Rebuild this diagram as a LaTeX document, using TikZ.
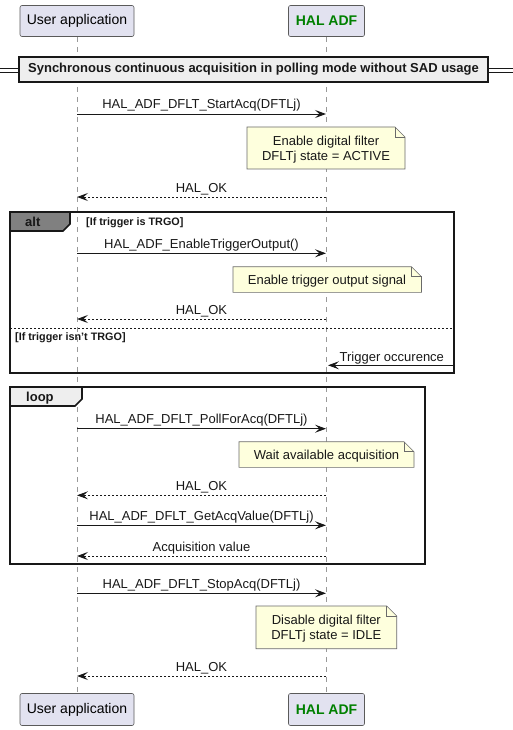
\documentclass[tikz,border=0pt]{standalone}
\usepackage{fontspec}
\setmainfont{Liberation Sans}
\usetikzlibrary{arrows.meta}
\definecolor{partfill}{HTML}{E2E2F0}
\definecolor{partdraw}{HTML}{5A5A5A}
\definecolor{notefill}{HTML}{FEFFDD}
\definecolor{notedraw}{HTML}{6A6A6A}
\definecolor{halgreen}{HTML}{008000}
\definecolor{grpfill}{HTML}{EEEEEE}
\definecolor{altfill}{HTML}{808080}
\definecolor{ink}{HTML}{181818}
\newcommand{\notefold}[4]{%
  \fill[notefill] (#1,#2) -- (#3-10,#2) -- (#3,#2+10) -- (#3,#4) -- (#1,#4) -- cycle;
  \draw[notedraw, line width=0.6pt] (#1,#2) -- (#3-10,#2) -- (#3,#2+10) -- (#3,#4) -- (#1,#4) -- cycle;
  \draw[notedraw, line width=0.6pt] (#3-10,#2) -- (#3-10,#2+10) -- (#3,#2+10);
}
\tikzset{
  part/.style={draw=partdraw, fill=partfill, rounded corners=2pt, line width=0.6pt,
    font=\fontsize{14}{16}\selectfont, inner sep=0pt},
  lifeline/.style={draw=gray!80, line width=0.6pt, dash pattern=on 5pt off 5pt},
  call/.style={draw=ink, line width=0.9pt, -{Stealth[length=11pt,width=8pt,inset=4.5pt]}},
  reply/.style={draw=ink, line width=0.9pt, dash pattern=on 2pt off 2pt,
    -{Stealth[length=11pt,width=8pt,inset=4.5pt]}},
  lbl/.style={font=\fontsize{13}{15}\selectfont, inner sep=0pt, anchor=base, yshift=5pt, text=ink},
  notetext/.style={font=\fontsize{13}{15}\selectfont, inner sep=0pt, align=center, text=ink},
  grp/.style={draw=ink, line width=1.6pt},
  cond/.style={font=\bfseries\fontsize{10.8}{12}\selectfont, inner sep=0pt, anchor=base west, text=ink},
  tabtext/.style={font=\bfseries\fontsize{13}{15}\selectfont, inner sep=0pt, anchor=base west, text=ink},
}
\begin{document}
\begin{tikzpicture}[x=1pt,y=-1pt]
\useasboundingbox (0,0) rectangle (513,730);
% participants
\node[part, minimum width=114pt, minimum height=31pt] (uatop) at (77,21) {User application};
\node[part, minimum width=76pt, minimum height=31pt, text=halgreen, font=\bfseries\fontsize{14}{16}\selectfont] (haltop) at (326.5,21) {HAL ADF};
\node[part, minimum width=114pt, minimum height=32pt] (uabot) at (77,709.5) {User application};
\node[part, minimum width=76pt, minimum height=32pt, text=halgreen, font=\bfseries\fontsize{14}{16}\selectfont] (halbot) at (326.5,709.5) {HAL ADF};
\draw[lifeline] (uatop.south) -- (uabot.north);
\draw[lifeline] (haltop.south) -- (halbot.north);
% title divider
\coordinate (dl1) at (0,68); \coordinate (dl2) at (0,72);
\coordinate (dr1) at (513,68); \coordinate (dr2) at (513,72);
\node[draw=ink, fill=grpfill, line width=1.6pt, minimum width=469pt, minimum height=25pt, inner sep=0pt,
  font=\bfseries\fontsize{13}{15}\selectfont, text=ink] (title) at (253.5,69.5)
  {Synchronous continuous acquisition in polling mode without SAD usage};
\draw[ink, line width=0.9pt] (dl1) -- (dl1 -| title.west);
\draw[ink, line width=0.9pt] (dl2) -- (dl2 -| title.west);
\draw[ink, line width=0.9pt] (dr1) -- (dr1 -| title.east);
\draw[ink, line width=0.9pt] (dr2) -- (dr2 -| title.east);
% message 1
\coordinate (a1) at (77,114); \coordinate (b1) at (326,114);
\draw[call] (a1) -- (b1) node[lbl, pos=0.5] {HAL\_ADF\_DFLT\_StartAcq(DFTLj)};
\notefold{247}{127}{405}{169}
\node[notetext] (n1) at (326,149.5) {Enable digital filter\\DFLTj state = ACTIVE};
\coordinate (a2) at (77,197); \coordinate (b2) at (326,197);
\draw[reply] (b2) -- (a2) node[lbl, pos=0.5] {HAL\_OK};
% alt
\draw[grp] (10,212) rectangle (454,373);
\filldraw[grp, fill=altfill] (10,212) -- (70,212) -- (70,224) -- (63,231) -- (10,231) -- cycle;
\node[tabtext] (alttab) at (25,226.5) {alt};
\node[cond] (c1) at (86,225.5) {[If trigger is TRGO]};
\coordinate (a3) at (77,253.3); \coordinate (b3) at (326,253.3);
\draw[call] (a3) -- (b3) node[lbl, pos=0.5] {HAL\_ADF\_EnableTriggerOutput()};
\notefold{233}{266.7}{421.5}{292.3}
\node[notetext] (n2) at (327,281) {Enable trigger output signal};
\coordinate (a4) at (77,319); \coordinate (b4) at (326,319);
\draw[reply] (b4) -- (a4) node[lbl, pos=0.5] {HAL\_OK};
\coordinate (s1) at (10,328); \coordinate (s2) at (454,328);
\draw[ink, line width=0.8pt, dash pattern=on 2pt off 2pt] (s1) -- (s2);
\node[cond] (c2) at (15,340) {[If trigger isn't TRGO]};
\coordinate (trg) at (455,365.3); \coordinate (b5) at (328,365.3);
\draw[call] (trg) -- (b5);
\node[font=\fontsize{13}{15}\selectfont, inner sep=0pt, anchor=base west, text=ink] (trgl) at (339.5,361) {Trigger occurence};
% loop
\draw[grp] (10,387) rectangle (425,564);
\filldraw[grp, fill=grpfill] (10,387) -- (82,387) -- (82,399) -- (75,406) -- (10,406) -- cycle;
\node[tabtext] (looptab) at (26,401) {loop};
\coordinate (a6) at (77,428.7); \coordinate (b6) at (326,428.7);
\draw[call] (a6) -- (b6) node[lbl, pos=0.5] {HAL\_ADF\_DFLT\_PollForAcq(DFTLj)};
\notefold{239}{441.7}{414}{467.3}
\node[notetext] (n3) at (326.5,456) {Wait available acquisition};
\coordinate (a7) at (77,495.3); \coordinate (b7) at (326,495.3);
\draw[reply] (b7) -- (a7) node[lbl, pos=0.5] {HAL\_OK};
\coordinate (a8) at (77,525.3); \coordinate (b8) at (326,525.3);
\draw[call] (a8) -- (b8) node[lbl, pos=0.5] {HAL\_ADF\_DFLT\_GetAcqValue(DFTLj)};
\coordinate (a9) at (77,556); \coordinate (b9) at (326,556);
\draw[reply] (b9) -- (a9) node[lbl, pos=0.5] {Acquisition value};
% stop
\coordinate (a10) at (77,593.3); \coordinate (b10) at (326,593.3);
\draw[call] (a10) -- (b10) node[lbl, pos=0.5] {HAL\_ADF\_DFLT\_StopAcq(DFTLj)};
\notefold{256}{606}{396.7}{648.7}
\node[notetext] (n4) at (326.3,628.8) {Disable digital filter\\DFLTj state = IDLE};
\coordinate (a11) at (77,676); \coordinate (b11) at (326,676);
\draw[reply] (b11) -- (a11) node[lbl, pos=0.5] {HAL\_OK};
\end{tikzpicture}
\end{document}
